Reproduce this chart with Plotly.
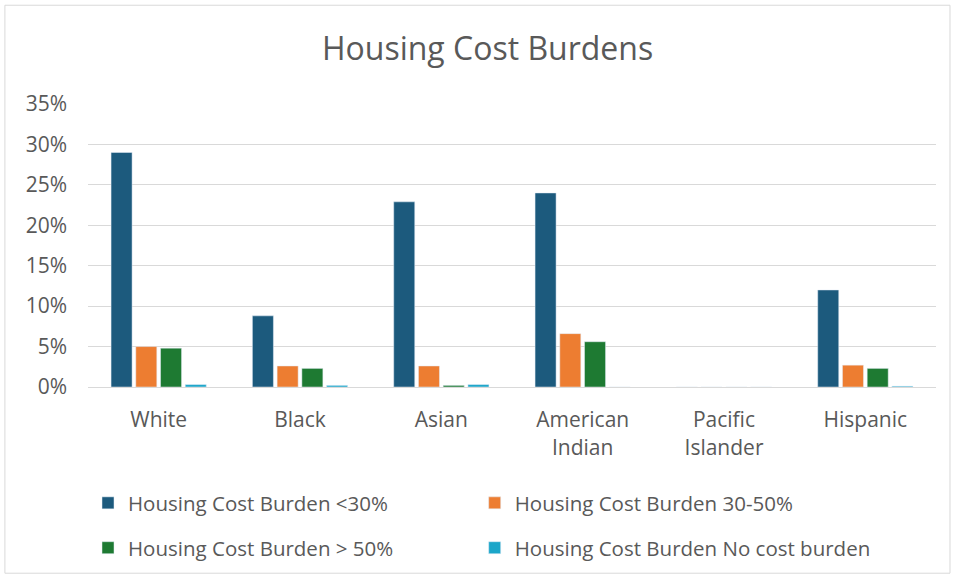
import plotly.graph_objects as go

categories = ["White", "Black", "Asian", "American<br>Indian", "Pacific<br>Islander", "Hispanic"]
burden_lt30 = [29.0, 8.8, 22.9, 24.0, 0.0, 12.0]
burden_30_50 = [5.0, 2.6, 2.6, 6.6, 0.0, 2.7]
burden_gt50 = [4.8, 2.3, 0.2, 5.6, 0.0, 2.3]
burden_none = [0.3, 0.2, 0.3, 0.0, 0.0, 0.1]
y_ticks = [0, 5, 10, 15, 20, 25, 30, 35]

FONT = "Open Sans"
GREY = "#595959"

fig = go.Figure()
# one legend per entry so the 2x2 grid can be placed freely
series = [
    ("Housing Cost Burden <30%", burden_lt30, "#1c5a7d", "legend"),
    ("Housing Cost Burden 30-50%", burden_30_50, "#ed7d31", "legend2"),
    ("Housing Cost Burden > 50%", burden_gt50, "#1e7a32", "legend3"),
    ("Housing Cost Burden No cost burden", burden_none, "#1ba6c9", "legend4"),
]
for name, vals, color, leg in series:
    fig.add_trace(go.Bar(x=categories, y=vals, name=name, marker_color=color,
                         legend=leg, showlegend=True))

# light frame around the whole chart
fig.add_shape(type="rect", xref="paper", yref="paper",
              x0=-0.098, x1=1.0165, y0=-0.658, y1=1.349,
              line=dict(color="#d9d9d9", width=1))

legend_common = dict(orientation="h",
                     font=dict(family=FONT, size=20.5, color=GREY),
                     xanchor="left", yanchor="middle", bgcolor="rgba(0,0,0,0)")
col1, col2 = 0.0, 0.456
row1, row2 = -0.405, -0.563
fig.update_layout(
    width=956, height=578,
    margin=dict(l=88, r=20, t=104, b=190),
    paper_bgcolor="white", plot_bgcolor="white",
    showlegend=True,
    title=dict(text="Housing Cost Burdens", x=0.51, xanchor="center",
               y=0.915, yanchor="middle",
               font=dict(family=FONT, size=32, color=GREY)),
    barmode="group", bargap=0.3, bargroupgap=0.15,
    legend=dict(x=col1, y=row1, **legend_common),
    legend2=dict(x=col2, y=row1, **legend_common),
    legend3=dict(x=col1, y=row2, **legend_common),
    legend4=dict(x=col2, y=row2, **legend_common),
    xaxis=dict(tickfont=dict(family=FONT, size=21, color=GREY),
               showline=True, linecolor="#d9d9d9", ticks="",
               ticklabelstandoff=14),
    yaxis=dict(range=[0, 35], tickvals=y_ticks,
               ticktext=[f"{v}%" for v in y_ticks],
               tickfont=dict(family=FONT, size=21, color=GREY),
               gridcolor="#d9d9d9", zeroline=False, ticklabelstandoff=20),
)

fig.write_html("out.html", config={"displayModeBar": False},
               post_script="document.body.style.margin='0';")
